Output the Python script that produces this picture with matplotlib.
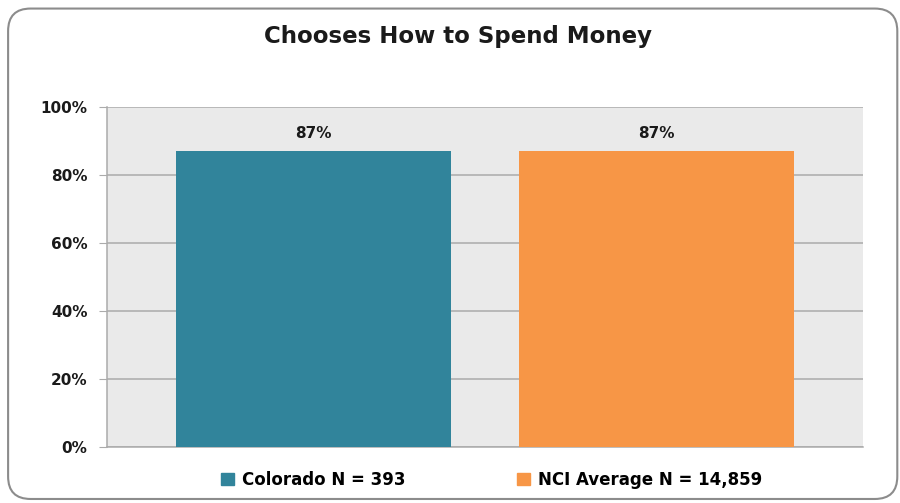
import numpy as np
import matplotlib.pyplot as plt
from matplotlib.patches import FancyBboxPatch

# chart data
series = ["Colorado N = 393", "NCI Average N = 14,859"]
values = [87, 87]
colors = ["#31849B", "#F79646"]
yticks = [0, 20, 40, 60, 80, 100]

plt.rcParams['font.family'] = ['DejaVu Sans']

fig = plt.figure(figsize=(9, 5.03), dpi=100)

# rounded chart border
border = FancyBboxPatch((0.009, 0.008), 0.988, 0.975,
                        boxstyle="round,pad=0,rounding_size=0.025",
                        transform=fig.transFigure, facecolor="none",
                        edgecolor="#8C8C8C", linewidth=1.5, mutation_aspect=1.79)
fig.patches.append(border)

# plot area in pixels: x 107..863, y 107..447
W, H = 900, 503
ax = fig.add_axes([107 / W, 1 - 447 / H, (863 - 107) / W, (447 - 107) / H])
ax.set_facecolor("#EAEAEA")

x = np.arange(len(values))
bars = ax.bar(x, values, width=0.8017, color=colors, zorder=3)

ax.set_xlim(-0.602, 1.602)
ax.set_ylim(0, 100)
ax.set_yticks(yticks)
ax.set_yticklabels([f"{v}%" for v in yticks], fontsize=11, fontweight="bold", color="#1a1a1a")
ax.set_xticks([])
ax.yaxis.grid(True, color="#ABABAB", linewidth=1.1, zorder=1)
ax.tick_params(axis="y", length=6, color="#ABABAB", pad=8)

for s in ["top", "right"]:
    ax.spines[s].set_visible(False)
ax.spines["left"].set_color("#ABABAB")
ax.spines["bottom"].set_color("#ABABAB")
ax.spines["left"].set_linewidth(1.1)
ax.spines["bottom"].set_linewidth(1.1)

for xi, v in zip(x, values):
    ax.text(xi, v + 3, f"{v}%", ha="center", va="bottom", fontsize=11,
            fontweight="bold", color="#1a1a1a")

fig.text(458 / W, 1 - 37 / H, "Chooses How to Spend Money", ha="center", va="center",
         fontsize=16.5, fontweight="bold", color="#1a1a1a")

# legend
handles = [plt.Rectangle((0, 0), 1, 1, color=c) for c in colors]
fig.legend(handles, series, loc="center", bbox_to_anchor=(492 / W, 1 - 480 / H),
           ncol=2, frameon=False, handlelength=0.75, handleheight=0.75,
           columnspacing=6.7, handletextpad=0.5, prop={"weight": "bold", "size": 12})

fig.savefig("out.png", dpi=100)
